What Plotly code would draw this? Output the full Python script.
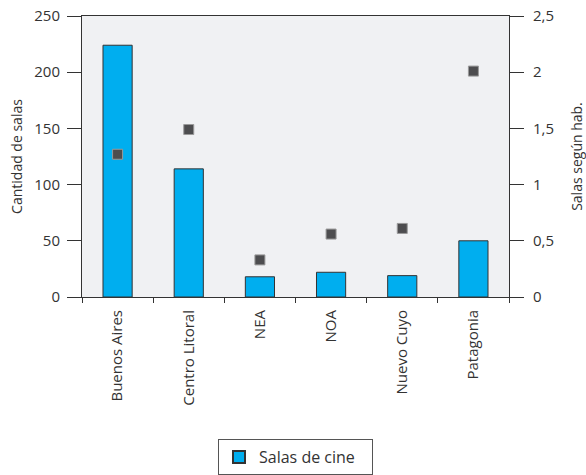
import plotly.graph_objects as go

regiones = ["Buenos Aires", "Centro Litoral", "NEA", "NOA", "Nuevo Cuyo", "Patagonia"]
salas = [224, 114, 18, 22, 19, 50]
salas_por_hab = [1.27, 1.49, 0.33, 0.56, 0.61, 2.01]

left_ticks = [0, 50, 100, 150, 200, 250]
right_ticks = [0, 0.5, 1, 1.5, 2, 2.5]
right_ticktext = ["0", "0,5", "1", "1,5", "2", "2,5"]

FONT = "Open Sans"
TXT = "#333333"

fig = go.Figure()
fig.add_trace(go.Bar(
    x=regiones, y=salas, name="Salas de cine",
    marker=dict(color="#00aeef", line=dict(color="#333333", width=1)),
    width=0.41,
))
fig.add_trace(go.Scatter(
    x=regiones, y=salas_por_hab, yaxis="y2", mode="markers",
    showlegend=False,
    marker=dict(symbol="square", size=10, color="#4d4d4f",
                line=dict(color="#9a9a9a", width=1)),
))

fig.update_layout(
    width=586, height=475,
    margin=dict(l=82, r=77, t=16, b=178),
    paper_bgcolor="white",
    plot_bgcolor="#f0f1f3",
    font=dict(family=FONT, size=14, color=TXT),
    showlegend=True,
    legend=dict(x=0.5, xanchor="center", xref="paper",
                y=(475 - 439) / 475, yanchor="top", yref="container",
                bordercolor="#555555", borderwidth=1,
                font=dict(size=16, color=TXT),
                itemsizing="constant", entrywidth=108,
                orientation="h"),
    xaxis=dict(
        tickangle=-90, showgrid=False, automargin=False,
        showline=True, linecolor="#333333", linewidth=1, mirror=True,
        ticks="outside", tickson="boundaries", ticklen=5, tickcolor="#333333",
        tickfont=dict(size=15, color=TXT), ticklabelstandoff=6,
    ),
    yaxis=dict(
        range=[0, 250], tickvals=left_ticks, showgrid=False, zeroline=False,
        automargin=False,
        showline=True, linecolor="#333333", linewidth=1,
        ticks="outside", ticklen=14, tickcolor="#333333",
        tickfont=dict(size=15, color=TXT), ticklabelstandoff=4,
        title=dict(text="Cantidad de salas", font=dict(size=14, color=TXT), standoff=8),
    ),
    yaxis2=dict(
        range=[0, 2.5], overlaying="y", side="right",
        tickvals=right_ticks, ticktext=right_ticktext,
        showgrid=False, zeroline=False, automargin=False,
        showline=True, linecolor="#333333", linewidth=1,
        ticks="outside", ticklen=14, tickcolor="#333333",
        tickfont=dict(size=15, color=TXT), ticklabelstandoff=6,
        title=dict(text="Salas según hab.", font=dict(size=14, color=TXT), standoff=20),
    ),
)

fig.write_html("out.html")
